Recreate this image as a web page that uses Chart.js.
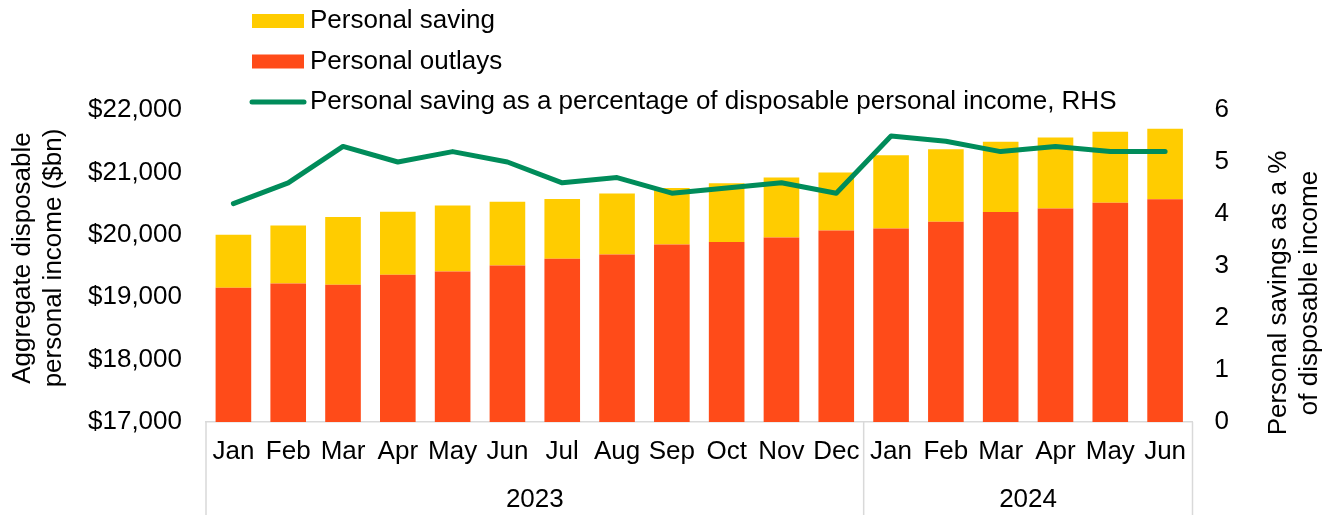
<!DOCTYPE html>
<html lang="en">
<head>
    <meta charset="UTF-8">
    <title>Personal income, outlays and saving</title>
    <script src="https://cdn.jsdelivr.net/npm/chart.js"></script>
    <style>
        body { margin: 0; background: #fff; }
        #chartWrap { width: 1331px; height: 515px; }
    </style>
</head>
<body>
    <div id="chartWrap">
        <canvas id="incomeChart" width="1331" height="515"></canvas>
    </div>

    <script>
        // Monthly data, Jan 2023 - Jun 2024
        const months = ['Jan', 'Feb', 'Mar', 'Apr', 'May', 'Jun', 'Jul', 'Aug', 'Sep', 'Oct', 'Nov', 'Dec',
                        'Jan', 'Feb', 'Mar', 'Apr', 'May', 'Jun'];
        const yearLabels = ['2023', '2024'];
        const monthsPerYear = [12, 6];

        // $bn
        const personalOutlays = [19150, 19220, 19200, 19360, 19410, 19510, 19615, 19685, 19845, 19885, 19955, 20070,
                                 20100, 20210, 20365, 20420, 20515, 20570];
        const personalSaving = [850, 930, 1085, 1010, 1060, 1020, 960, 975, 905, 940, 965, 930,
                                1175, 1160, 1125, 1140, 1135, 1130];
        // % of disposable income (RHS)
        const savingRate = [4.2, 4.6, 5.3, 5.0, 5.2, 5.0, 4.6, 4.7, 4.4, 4.5, 4.6, 4.4,
                            5.5, 5.4, 5.2, 5.3, 5.2, 5.2];

        const leftTicks = [17000, 18000, 19000, 20000, 21000, 22000];
        const rightTicks = [0, 1, 2, 3, 4, 5, 6];

        const COLOR_SAVING = '#FFCC00';
        const COLOR_OUTLAYS = '#FF4B19';
        const COLOR_RATE = '#008C5A';
        const COLOR_AXIS = '#D9D9D9';
        const FONT = '"Liberation Sans", Arial, sans-serif';
        const FONT_SIZE = 26;

        Chart.defaults.font.family = FONT;
        Chart.defaults.font.size = FONT_SIZE;
        Chart.defaults.color = '#000';

        // legend, axis titles and the two-level category axis are drawn by hand
        const extrasPlugin = {
            id: 'extras',
            afterDraw(chart) {
                const ctx = chart.ctx;
                const x = chart.scales.x;
                const area = chart.chartArea;
                const bottom = chart.height;

                ctx.save();
                ctx.font = FONT_SIZE + 'px ' + FONT;
                ctx.textBaseline = 'middle';

                // year groups under the months
                ctx.strokeStyle = COLOR_AXIS;
                ctx.lineWidth = 1.5;
                const half = (x.getPixelForValue(1) - x.getPixelForValue(0)) / 2;
                let start = 0;
                const edges = [x.getPixelForValue(0) - half];
                yearLabels.forEach((yr, i) => {
                    const end = start + monthsPerYear[i] - 1;
                    const left = x.getPixelForValue(start) - half;
                    const right = x.getPixelForValue(end) + half;
                    edges.push(right);
                    ctx.fillStyle = '#000';
                    ctx.textAlign = 'center';
                    ctx.fillText(yr, (left + right) / 2, 500);
                    start = end + 1;
                });
                edges.forEach(px => {
                    ctx.beginPath();
                    ctx.moveTo(px, area.bottom);
                    ctx.lineTo(px, bottom);
                    ctx.stroke();
                });

                // axis titles
                ctx.fillStyle = '#000';
                ctx.textAlign = 'center';
                const drawRotated = (lines, cx, cy, gap) => {
                    ctx.save();
                    ctx.translate(cx, cy);
                    ctx.rotate(-Math.PI / 2);
                    lines.forEach((t, i) => ctx.fillText(t, 0, i * gap));
                    ctx.restore();
                };
                drawRotated(['Aggregate disposable', 'personal income ($bn)'], 23, 258, 31);
                drawRotated(['Personal savings as a %', 'of disposable income'], 1279, 293, 31);

                // legend, stacked vertically
                const ds = chart.data.datasets;
                const items = [
                    { label: ds[1].label, color: ds[1].backgroundColor, type: 'box' },
                    { label: ds[0].label, color: ds[0].backgroundColor, type: 'box' },
                    { label: ds[2].label, color: ds[2].borderColor, type: 'line' }
                ];
                items.forEach((item, i) => {
                    const cy = 21 + i * 40.5;
                    if (item.type === 'box') {
                        ctx.fillStyle = item.color;
                        ctx.fillRect(252, cy - 7, 52, 14);
                    } else {
                        ctx.strokeStyle = item.color;
                        ctx.lineWidth = 5;
                        ctx.lineCap = 'round';
                        ctx.beginPath();
                        ctx.moveTo(252, cy);
                        ctx.lineTo(304, cy);
                        ctx.stroke();
                    }
                    ctx.fillStyle = '#000';
                    ctx.textAlign = 'left';
                    ctx.fillText(item.label, 310, cy);
                });

                ctx.restore();
            }
        };

        const ctx = document.getElementById('incomeChart').getContext('2d');
        new Chart(ctx, {
            type: 'bar',
            data: {
                labels: months,
                datasets: [
                    {
                        label: 'Personal outlays',
                        data: personalOutlays,
                        backgroundColor: COLOR_OUTLAYS,
                        yAxisID: 'y',
                        stack: 'income',
                        order: 1
                    },
                    {
                        label: 'Personal saving',
                        data: personalSaving,
                        backgroundColor: COLOR_SAVING,
                        yAxisID: 'y',
                        stack: 'income',
                        order: 1
                    },
                    {
                        type: 'line',
                        label: 'Personal saving as a percentage of disposable personal income, RHS',
                        data: savingRate,
                        borderColor: COLOR_RATE,
                        backgroundColor: COLOR_RATE,
                        borderWidth: 5,
                        borderJoinStyle: 'round',
                        borderCapStyle: 'round',
                        pointRadius: 0,
                        tension: 0,
                        yAxisID: 'y1',
                        order: 0
                    }
                ]
            },
            options: {
                responsive: false,
                animation: false,
                categoryPercentage: 1,
                barPercentage: 0.65,
                layout: { padding: { top: 110, left: 0, right: 0, bottom: 0 } },
                plugins: {
                    legend: { display: false },
                    tooltip: { enabled: false }
                },
                scales: {
                    x: {
                        stacked: true,
                        grid: { display: false, drawTicks: false },
                        border: { display: true, color: COLOR_AXIS, width: 1.5 },
                        ticks: { padding: 14, maxRotation: 0, autoSkip: false },
                        afterFit: scale => { scale.height = 93; }
                    },
                    y: {
                        position: 'left',
                        stacked: true,
                        min: leftTicks[0],
                        max: leftTicks[leftTicks.length - 1],
                        grid: { display: false, drawTicks: false },
                        border: { display: false },
                        afterBuildTicks: scale => { scale.ticks = leftTicks.map(v => ({ value: v })); },
                        ticks: {
                            padding: 24,
                            callback: v => '$' + v.toLocaleString('en-US')
                        },
                        afterFit: scale => { scale.width = 206; }
                    },
                    y1: {
                        position: 'right',
                        min: rightTicks[0],
                        max: rightTicks[rightTicks.length - 1],
                        grid: { display: false, drawTicks: false },
                        border: { display: false },
                        afterBuildTicks: scale => { scale.ticks = rightTicks.map(v => ({ value: v })); },
                        ticks: { padding: 22 },
                        afterFit: scale => { scale.width = 138.5; }
                    }
                }
            },
            plugins: [extrasPlugin]
        });
    </script>
</body>
</html>
